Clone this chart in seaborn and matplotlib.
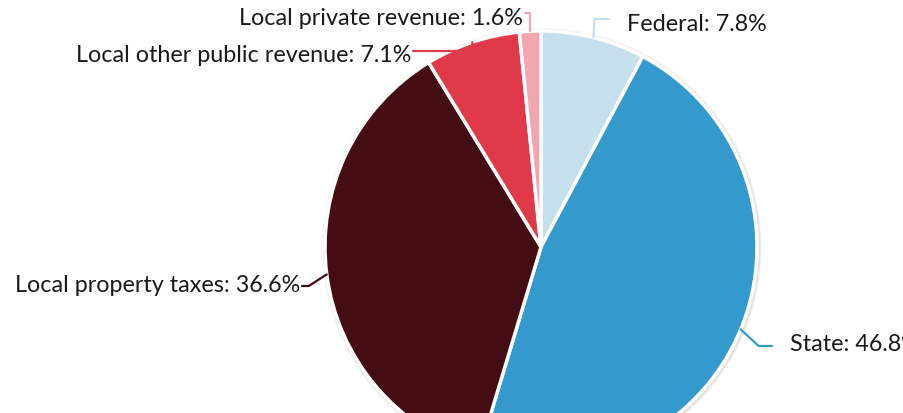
"""Revenue sources pie chart (cropped view)."""

import numpy as np
import seaborn as sns
from matplotlib import pyplot as plt
from matplotlib.patches import Circle

categories = [
    "Federal",
    "State",
    "Local property taxes",
    "Local other public revenue",
    "Local private revenue",
]
shares = [7.8, 46.8, 36.6, 7.1, 1.6]
colors = ["#c5dfec", "#3499cd", "#440c13", "#e0394a", "#f2a7b0"]

# label anchor (pixel coords, y down) and alignment
label_pos = [(627, 24), (790, 345), (300, 285), (411, 56), (523, 18)]
label_ha = ["left", "left", "right", "right", "right"]

W, H = 904, 414
CX, CY, R = 541, 248, 216

sns.set_theme(style="white")
plt.rcParams["font.family"] = ["Lato", "DejaVu Sans"]

fig = plt.figure(figsize=(W / 100, H / 100), dpi=100)
ax = fig.add_axes([0, 0, 1, 1])

# soft shadow behind the pie
for i, a in enumerate([0.05, 0.04, 0.03]):
    ax.add_patch(Circle((CX + 1, H - CY - 1), R + 2 + i, color="black", alpha=a, lw=0, zorder=0))

wedges, _ = ax.pie(
    shares,
    colors=colors,
    startangle=90,
    counterclock=False,
    center=(CX, H - CY),
    radius=R,
    wedgeprops=dict(edgecolor="white", linewidth=2.5),
    frame=True,
)
ax.set_xlim(0, W)
ax.set_ylim(0, H)
ax.set_aspect("equal")
ax.axis("off")

for w, name, val, col, (lx, ly), ha in zip(wedges, categories, shares, colors, label_pos, label_ha):
    mid = np.deg2rad((w.theta1 + w.theta2) / 2)
    ex, ey = CX + R * np.cos(mid), (H - CY) + R * np.sin(mid)
    top = ly < 100
    ky = H - ly + (4 if top else -2)
    if top:
        kx = ex + (ky - ey) / np.tan(mid) * 0.2
    else:
        kx = ex + 18 * np.sign(np.cos(mid))
    end_x = lx - 18 if ha == "left" else lx + 2
    ax.plot([ex, kx, end_x], [ey, ky, ky], color=col, lw=1.6, zorder=3,
            solid_capstyle="round", solid_joinstyle="round")
    ax.text(lx, H - ly, f"{name}: {val}%", ha=ha, va="center", fontsize=16.8,
            color="#1a1a1a", zorder=4)

fig.savefig("out.png", dpi=100)
